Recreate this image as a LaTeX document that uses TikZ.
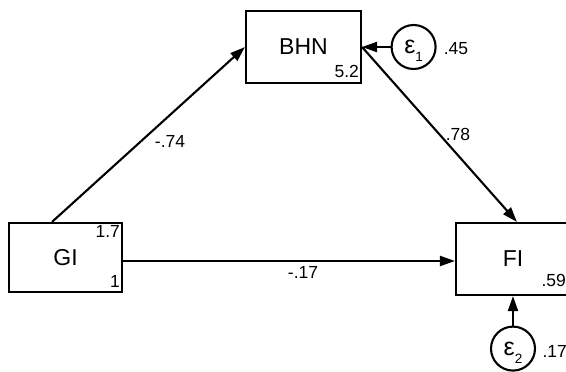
\documentclass[tikz,border=0pt]{standalone}
\usepackage{fontspec}
\setmainfont{Liberation Sans}
\usetikzlibrary{arrows.meta, positioning}

\tikzset{
  var/.style={draw, rectangle, line width=2.1pt, inner sep=0pt,
    font=\fontsize{23}{26}\selectfont},
  err/.style={draw, circle, line width=2.1pt, inner sep=0pt,
    minimum size=44pt, font=\fontsize{25}{28}\selectfont},
  coef/.style={inner sep=0pt, font=\fontsize{17.5}{20}\selectfont},
  link/.style={line width=2.1pt, -{Triangle[length=15pt,width=10pt]}}
}
\newcommand{\errlab}[1]{ε\raisebox{-8pt}[0pt][0pt]{\fontsize{13.5}{14}\selectfont #1}}

\begin{document}
\begin{tikzpicture}[x=1pt, y=-1pt]
  \useasboundingbox (0,0) rectangle (566,372);
  \clip (0,0) rectangle (566,372);
  % observed variables
  \node[var, minimum width=115pt, minimum height=72pt] (bhn) at (303.5,47) {BHN};
  \node[var, minimum width=113pt, minimum height=69pt] (gi) at (65.5,257.5) {GI};
  \node[var, minimum width=114pt, minimum height=72pt] (fi) at (513,259) {FI};
  % error terms
  \node[err, right=28.5pt of bhn] (e1) {\errlab{1}};
  \node[err, below=29.5pt of fi] (e2) {\errlab{2}};
  % paths
  \draw[link] ([xshift=-13.5pt]gi.north) -- (bhn.west);
  \draw[link] (bhn.east) -- ([xshift=4pt]fi.north);
  \draw[link] ([yshift=-3.5pt]gi.east) -- ([yshift=-3.5pt]gi.east -| fi.west);
  \draw[link] (e1) -- (bhn.east);
  \draw[link] (e2) -- (fi);
  % coefficients
  \node[coef] (c1) at (170,141.5) {-.74};
  \node[coef] (c2) at (458,134) {.78};
  \node[coef] (c3) at (303,272) {-.17};
  % means, intercepts and variances
  \node[coef, anchor=base east] (v1) at ([xshift=-3pt,yshift=7pt]bhn.south east) {5.2};
  \node[coef, anchor=base east] (v2) at ([xshift=-3pt,yshift=-16pt]gi.north east) {1.7};
  \node[coef, anchor=base east] (v3) at ([xshift=-3pt,yshift=6pt]gi.south east) {1};
  \node[coef, anchor=base east] (v4) at ([xshift=-5pt,yshift=10pt]fi.south east) {.59};
  \node[coef, anchor=base west] (v5) at ([xshift=7pt,yshift=-7pt]e1.east) {.45};
  \node[coef, anchor=base east] (v6) at ([xshift=31pt,yshift=-8.5pt]e2.east) {.17};
\end{tikzpicture}
\end{document}
